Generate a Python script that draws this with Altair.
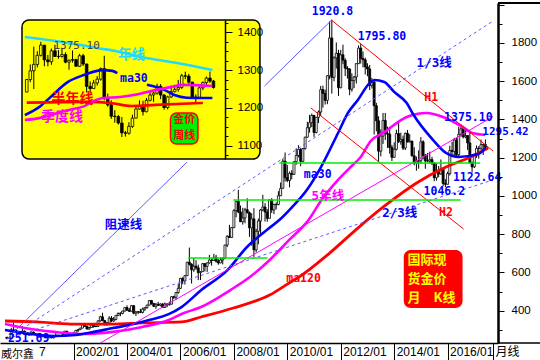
import altair as alt
import pandas as pd

# ---------------- monthly spot gold candles 1999/07 .. 2017/06 ----------------
YEARS = list(range(1999, 2018))
OPEN_1999_07 = 261.5
CLOSE = [
    [255.5, 254.5, 299.5, 299.5, 292, 288],
    [284, 293, 278, 274, 273, 288, 277, 277, 273, 264, 270, 273],
    [265, 267, 258, 264, 267, 270, 265, 273, 293, 279, 274, 279],
    [282, 297, 302, 309, 326, 318, 304, 312, 324, 317, 318, 347],
    [368, 348, 334, 336, 361, 346, 354, 375, 385, 386, 398, 416],
    [403, 397, 426, 387, 394, 394, 391, 408, 416, 429, 453, 438],
    [423, 434, 428, 435, 417, 435, 430, 434, 473, 470, 495, 517],
    [569, 556, 583, 654, 643, 614, 633, 624, 599, 604, 646, 632],
    [650, 665, 662, 679, 659, 650, 665, 673, 743, 789, 783, 834],
    [923, 972, 916, 865, 885, 928, 912, 833, 880, 718, 815, 869],
    [927, 942, 916, 883, 979, 927, 955, 955, 1001, 1040, 1182, 1096],
    [1081, 1118, 1113, 1179, 1212, 1244, 1181, 1248, 1307, 1357, 1383, 1421],
    [1332, 1411, 1439, 1556, 1536, 1500, 1628, 1826, 1620, 1722, 1746, 1566],
    [1738, 1710, 1668, 1664, 1558, 1604, 1622, 1692, 1773, 1719, 1712, 1675],
    [1664, 1578, 1596, 1472, 1393, 1234, 1313, 1395, 1327, 1323, 1253, 1202],
    [1244, 1326, 1284, 1296, 1250, 1327, 1282, 1287, 1210, 1171, 1182, 1184],
    [1283, 1212, 1183, 1183, 1190, 1172, 1095, 1134, 1115, 1142, 1065, 1061],
    [1117, 1238, 1233, 1293, 1215, 1322, 1351, 1309, 1316, 1277, 1173, 1152],
    [1211, 1249, 1249, 1268, 1269, 1255],
]
HIGH = [
    [262.5, 262, 310, 339, 301, 293],
    [293, 318, 296, 288, 279, 292, 291, 283, 279, 275, 272, 275],
    [274, 268, 269, 265, 294, 275, 272, 279, 294, 293, 280, 282],
    [289, 299, 304, 310, 327, 330, 322, 316, 326, 325, 323, 349],
    [373, 389, 352, 341, 371, 372, 367, 376, 391, 392, 400, 417],
    [428, 415, 429, 430, 396, 398, 410, 416, 418, 431, 455, 456],
    [441, 439, 446, 438, 439, 443, 439, 448, 475, 478, 496, 541],
    [571, 575, 586, 654, 730, 648, 676, 664, 641, 606, 650, 648],
    [652, 692, 674, 697, 692, 671, 679, 680, 745, 795, 849, 838],
    [931, 975, 1032, 950, 938, 938, 988, 919, 910, 936, 828, 882],
    [932, 1006, 962, 931, 983, 989, 960, 966, 1025, 1070, 1195, 1227],
    [1162, 1128, 1135, 1180, 1249, 1265, 1250, 1251, 1310, 1388, 1424, 1431],
    [1424, 1412, 1447, 1575, 1577, 1556, 1632, 1913, 1920.8, 1730, 1803, 1764],
    [1764, 1791, 1720, 1679, 1668, 1641, 1628, 1693, 1787, 1795.8, 1755, 1723],
    [1694, 1685, 1617, 1604, 1487, 1417, 1348, 1434, 1434, 1362, 1362, 1267],
    [1280, 1346, 1392, 1331, 1315, 1332, 1345, 1323, 1288, 1255, 1206, 1238],
    [1308, 1291, 1220, 1225, 1232, 1205, 1178, 1170, 1157, 1191, 1142, 1088],
    [1127, 1263, 1283, 1304, 1303, 1362, 1375.1, 1367, 1352, 1317, 1338, 1180],
    [1220, 1264, 1261, 1295, 1270, 1295.42],
]
LOW = [
    [251.69, 252, 253, 295, 287, 278],
    [280, 283, 275, 272, 269, 272, 275, 274, 270, 263, 262, 266],
    [262, 255, 256, 255, 263, 266, 264, 265, 269, 276, 270, 272],
    [277, 280, 288, 298, 308, 315, 302, 300, 311, 311, 314, 316],
    [342, 345, 322, 320, 334, 340, 342, 350, 372, 371, 381, 396],
    [398, 393, 395, 381, 372, 382, 387, 386, 399, 411, 427, 431],
    [419, 410, 425, 423, 414, 414, 418, 428, 434, 460, 456, 489],
    [514, 538, 537, 582, 636, 542, 603, 614, 560, 560, 603, 605],
    [603, 646, 635, 662, 652, 640, 648, 642, 672, 733, 781, 782],
    [834, 888, 910, 865, 850, 857, 909, 786, 740, 681, 705, 747],
    [802, 920, 866, 865, 883, 911, 905, 930, 951, 1000, 1040, 1075],
    [1072, 1045, 1087, 1110, 1163, 1202, 1155, 1178, 1242, 1306, 1331, 1360],
    [1309, 1327, 1381, 1418, 1462, 1478, 1480, 1610, 1535, 1600, 1666, 1523],
    [1563, 1689, 1627, 1614, 1527, 1545, 1564, 1588, 1689, 1692, 1672, 1635],
    [1626, 1554, 1562, 1321, 1338, 1180, 1207, 1272, 1292, 1251, 1221, 1182],
    [1200, 1238, 1277, 1268, 1240, 1240, 1280, 1281, 1206, 1160, 1132, 1142],
    [1167, 1191, 1142, 1175, 1169, 1162, 1077, 1080, 1098, 1111, 1052, 1046.2],
    [1061, 1107, 1208, 1208, 1199, 1208, 1310, 1301, 1302, 1241, 1171, 1122.64],
    [1146, 1199, 1195, 1241, 1214, 1249],
]

# moving averages (time, value)
MA30_T = [1999.43, 2000.17, 2001.27, 2002.07, 2002.73, 2003.47, 2004.09, 2004.83, 2005.56, 2006.04,
          2006.77, 2007.76, 2008.49, 2009.23, 2009.70, 2010.18, 2010.73, 2011.24, 2011.90, 2012.27,
          2012.64, 2013.08, 2013.26, 2013.63, 2014.00, 2014.47, 2014.73, 2015.46, 2015.94, 2016.42,
          2017.15, 2017.41]
MA30_V = [299, 283, 268, 273, 288, 309, 325, 351, 382, 419, 507, 612, 733, 822, 874, 942, 1031, 1146,
          1329, 1434, 1502, 1590, 1606, 1596, 1544, 1486, 1423, 1292, 1225, 1204, 1219, 1251]
MA60_T = [1999.43, 2000.17, 2001.27, 2002.37, 2003.47, 2004.57, 2005.56, 2006.04, 2006.77, 2007.87,
          2008.60, 2009.34, 2010.07, 2010.80, 2011.28, 2011.90, 2012.45, 2012.75, 2013.12, 2013.63,
          2014.47, 2015.21, 2015.83, 2016.56, 2016.93, 2017.41]
MA60_V = [330, 309, 289, 278, 289, 315, 351, 383, 419, 508, 576, 665, 770, 875, 979, 1084, 1162, 1204,
          1287, 1334, 1413, 1434, 1413, 1361, 1329, 1319]
MA120_T = [1999.43, 2000.64, 2001.89, 2003.47, 2004.57, 2006.04, 2006.77, 2007.98, 2009.34, 2010.07,
           2010.44, 2011.54, 2012.64, 2013.74, 2014.84, 2015.94, 2016.86, 2017.52]
MA120_V = [346, 341, 330, 330, 336, 341, 367, 414, 482, 545, 576, 696, 832, 958, 1068, 1151, 1204, 1251]

# drawn trend lines (start/end)
FAN_SOLID = {"t": [1999.5, 2011.667], "v": [251.69, 1920.8]}
FAN_DASH = {"id": ["a", "a", "b", "b"], "t": [1999.5, 2017.70, 1999.5, 2017.70], "v": [251.69, 1915, 251.69, 1084]}
RED_THIN = {"id": ["H1", "H1", "H2", "H2"], "t": [2011.65, 2017.70, 2010.88, 2016.60], "v": [1920, 1235, 1460, 827]}
PINK_THIN = {"t": [2003.0, 2017.70], "v": [231, 1415]}
GREEN = {"id": ["g1", "g1", "g2", "g2", "g3", "g3"],
         "t": [2006.29, 2009.26, 2007.98, 2016.49, 2009.70, 2017.22],
         "v": [675, 675, 979, 979, 1172, 1172]}

# ---------------- weekly inset (2016/06 .. 2017/06) ----------------
W_OPEN_FIRST = 1242
W_CLOSE = [1275, 1298, 1315, 1339, 1366, 1327, 1322, 1351, 1336, 1336, 1341, 1321, 1326, 1328, 1310, 1338,
           1316, 1257, 1251, 1266, 1276, 1304, 1225, 1208, 1178, 1177, 1160, 1134, 1133, 1151, 1173, 1197,
           1204, 1190, 1220, 1234, 1239, 1257, 1234, 1201, 1229, 1243, 1249, 1254, 1285, 1284, 1268, 1228,
           1228, 1253, 1267, 1279, 1271, 1254]
W_HIGH = [1276, 1315, 1362, 1350, 1375, 1366, 1340, 1357, 1367, 1353, 1358, 1347, 1328, 1352, 1330, 1343,
          1343, 1317, 1270, 1274, 1284, 1307, 1338, 1238, 1220, 1194, 1181, 1176, 1139, 1162, 1182, 1207,
          1220, 1219, 1226, 1245, 1245, 1264, 1263, 1236, 1232, 1259, 1261, 1274, 1290, 1296, 1290, 1269,
          1236, 1262, 1270, 1283, 1296, 1274]
W_LOW = [1241, 1268, 1250, 1307, 1336, 1310, 1310, 1314, 1335, 1330, 1333, 1318, 1301, 1320, 1311, 1308,
         1311, 1241, 1241, 1250, 1259, 1272, 1220, 1203, 1171, 1161, 1156, 1123, 1124, 1129, 1147, 1172,
         1195, 1180, 1188, 1217, 1216, 1235, 1223, 1195, 1196, 1226, 1241, 1243, 1250, 1276, 1260, 1226,
         1214, 1227, 1247, 1256, 1266, 1251]
IN_CYAN = {"i": [-0.54, 10.3, 20.3, 25.1, 32.4, 42.7, 52.7], "v": [1387.6, 1374, 1358, 1350.5, 1334.7, 1318.8, 1300.3]}
IN_BLUE = {"seg": [0] * 8 + [1] * 5,
           "i": [-0.54, 3.51, 7.03, 11.6, 16.2, 21.6, 24.3, 25.7, 34.1, 39.2, 41.9, 45.4, 52.7],
           "v": [1181, 1202, 1231, 1268, 1287, 1300, 1298, 1292, 1261, 1247, 1234, 1227, 1226]}
IN_RED = {"i": [0, 17.6, 23.8, 29.7, 36.5, 50], "v": [1214, 1216, 1213, 1205, 1208, 1213]}
IN_PINK = {"i": [-0.54, 3.5, 11.6, 16.2, 19.7, 21.6, 26.5, 31.9, 36.5, 40.8, 44.6, 52.7],
           "v": [1168, 1173, 1194, 1204, 1221, 1226, 1229, 1237, 1247, 1255, 1261, 1258]}

# ---------------- build tables ----------------
rows = []
prev = OPEN_1999_07
for yi, year in enumerate(YEARS):
    m0 = 7 if year == 1999 else 1
    for k, c in enumerate(CLOSE[yi]):
        rows.append({"t": year + (m0 + k - 1) / 12.0, "o": prev, "c": c, "h": HIGH[yi][k], "l": LOW[yi][k]})
        prev = c
candles = pd.DataFrame(rows)

wrows = []
prev = W_OPEN_FIRST
for i, c in enumerate(W_CLOSE):
    wrows.append({"i": i, "o": prev, "c": c, "h": W_HIGH[i], "l": W_LOW[i]})
    prev = c
weekly = pd.DataFrame(wrows)

# ---------------- scales & axes ----------------
XS = alt.Scale(domain=[1999.432, 2017.70], nice=False, zero=False)
YS = alt.Scale(domain=[231, 2009], nice=False, zero=False)
XTICKS = [2002, 2004, 2006, 2008, 2010, 2012, 2014, 2016, 2017.70]
X_AXIS = alt.Axis(values=XTICKS, title=None, grid=False, orient="bottom",
                  labelExpr="datum.value > 2017 ? '月线' : datum.value + '/01'",
                  tickSize=17, tickColor="black", tickWidth=1, domainColor="black", domainWidth=1.5,
                  labelAlign="left", labelBaseline="top", labelPadding=-14, labelOffset=2,
                  labelFont="Liberation Sans, Noto Sans CJK SC", labelFontSize=12, labelColor="black",
                  labelFlush=False, labelOverlap=False, zindex=0)
Y_AXIS = alt.Axis(values=list(range(300, 2001, 100)), title=None, grid=False, orient="right",
                  labelExpr="(datum.value % 200 === 0 && datum.value <= 1800) ? datum.value : ''",
                  tickSize={"condition": {"test": "datum.value % 200 === 0", "value": 6}, "value": 4},
                  tickColor="black", domainColor="black", domainWidth=2.5,
                  labelPadding=7, labelFont="Liberation Sans", labelFontSize=11.5, labelColor="black",
                  labelFlush=False, labelOverlap=False, zindex=1)

X = alt.X("t:Q", scale=XS, axis=X_AXIS)
Y = alt.Y("v:Q", scale=YS, axis=Y_AXIS)

wick = alt.Chart(candles).mark_rule(color="black", strokeWidth=1).encode(
    x=X, y=alt.Y("l:Q", scale=YS, axis=Y_AXIS), y2="h:Q")
body = alt.Chart(candles).mark_bar(size=2, stroke="black", strokeWidth=0.8).encode(
    x=X, y=alt.Y("o:Q", scale=YS, axis=Y_AXIS), y2="c:Q",
    fill=alt.condition("datum.c >= datum.o", alt.value("white"), alt.value("black")))


def line(data, color, width, dash=None, detail=None, interp="linear"):
    kw = dict(color=color, strokeWidth=width, interpolate=interp)
    if dash:
        kw["strokeDash"] = dash
    enc = dict(x=X, y=Y)
    if detail:
        enc["detail"] = detail
    return alt.Chart(pd.DataFrame(data)).mark_line(**kw).encode(**enc)


ma30 = line({"t": MA30_T, "v": MA30_V}, "#0000ff", 2.6, interp="monotone")
ma60 = line({"t": MA60_T, "v": MA60_V}, "#ff00ff", 2.6, interp="monotone")
ma120 = line({"t": MA120_T, "v": MA120_V}, "#ff0000", 2.8, interp="monotone")
fan_solid = line(FAN_SOLID, "#5a5aff", 1)
fan_dash = line(FAN_DASH, "#5a5aff", 1, dash=[3, 3], detail="id:N")
red_thin = line(RED_THIN, "#ff0000", 1, detail="id:N")
pink_thin = line(PINK_THIN, "#ff00ff", 1)
green = line(GREEN, "#00ee00", 1.5, detail="id:N")


def texts(items, color, size, font, weight="bold", align="left"):
    df = pd.DataFrame(items, columns=["t", "v", "label"])
    return alt.Chart(df).mark_text(color=color, fontSize=size, font=font, fontWeight=weight,
                                   align=align, baseline="middle").encode(x=X, y=Y, text="label:N")


MONO = "DejaVu Sans Mono, Noto Sans CJK SC"
CJK = "Noto Sans CJK SC"
blue_nums = texts([(2010.914, 1962, "1920.8"), (2012.638, 1831, "1795.80"), (2015.87, 1408, "1375.10"),
                   (2016.20, 1094, "1122.64"), (2015.10, 1021, "1046.2"),
                   (1999.54, 252, "251.69"), (2010.62, 1110, "ma30")], "#0000ff", 11.5, MONO)
blue_last = texts([(2017.30, 1336, "1295.42")], "#0000ff", 11, MONO)
blue_cjk = texts([(2014.84, 1695, "1/3线"), (2013.55, 911, "2/3线"), (2003.17, 848, "阻速线")],
                 "#0000ff", 12.5, MONO)
red_lbl = texts([(2015.13, 1512, "H1"), (2015.68, 911, "H2"), (2009.96, 566, "ma120")], "#ff0000", 11.5, MONO)
pink_lbl = texts([(2010.91, 1000, "5年线")], "#ff00ff", 12.5, MONO)

BOX = pd.DataFrame({"t": [2014.36], "t2": [2016.56], "v": [414], "v2": [717]})
red_box = alt.Chart(BOX).mark_rect(fill="#ff0000", cornerRadius=7).encode(
    x=alt.X("t:Q", scale=XS, axis=X_AXIS), x2="t2:Q", y=alt.Y("v:Q", scale=YS, axis=Y_AXIS), y2="v2:Q")
box_txt = texts([(2014.50, 665, "国际现"), (2014.50, 566, "货金价"), (2014.50, 466, "月\u3000K线")],
                "#ffff00", 13, CJK)

one = pd.DataFrame({"a": [0]})
corner_txt = alt.Chart(one).mark_text(text="威尔鑫", font=CJK, fontSize=11, color="black",
                                      align="left", baseline="middle").encode(x=alt.value(1), y=alt.value(351.5))
corner_seven = alt.Chart(one).mark_text(text="7", font="Liberation Sans", fontSize=12, color="black",
                                        align="left", baseline="middle").encode(x=alt.value(39), y=alt.value(349))
top_rule = alt.Chart(one).mark_rule(color="black", strokeWidth=2).encode(
    x=alt.value(498), x2=alt.value(540), y=alt.value(0))
bot_rule = alt.Chart(one).mark_rule(color="black", strokeWidth=1.5).encode(
    x=alt.value(498), x2=alt.value(540), y=alt.value(340))

main = alt.layer(wick, body, ma120, ma60, ma30, fan_solid, fan_dash, red_thin, pink_thin, green,
                 blue_nums, blue_last, blue_cjk, red_lbl, pink_lbl, red_box, box_txt,
                 corner_txt, corner_seven, top_rule, bot_rule)

# ---------------- inset ----------------
XI = alt.Scale(domain=[-1.35, 54.86], range=[17, 225], nice=False, zero=False)
YI = alt.Scale(domain=[1064.8, 1432.5], range=[156, 17], nice=False, zero=False)
YI_AXIS = alt.Axis(values=list(range(1075, 1426, 25)), title=None, grid=False, orient="right", offset=-273,
                   labelExpr="datum.value % 100 === 0 ? datum.value : ''",
                   tickSize={"condition": {"test": "datum.value % 100 === 0", "value": 7}, "value": 3},
                   tickColor="black", domainColor="black", domainWidth=1.5, labelPadding=5,
                   labelFont="Liberation Sans", labelFontSize=11.5, labelColor="black",
                   labelFlush=False, labelOverlap=False, zindex=2)
XIN = alt.X("i:Q", scale=XI, axis=None)
YIN = alt.Y("v:Q", scale=YI, axis=YI_AXIS)

IN_BG = pd.DataFrame({"i": [-6], "i2": [67.5], "v": [1057], "v2": [1490]})
IN_BOX = pd.DataFrame({"i": [-1.35], "i2": [66.2], "v": [1064.8], "v2": [1432.5]})
in_bg = alt.Chart(IN_BG).mark_rect(fill="white").encode(x=XIN, x2="i2:Q", y=YIN, y2="v2:Q")
in_box = alt.Chart(IN_BOX).mark_rect(fill="#ffff00", stroke="black", strokeWidth=1.5, cornerRadius=7).encode(
    x=XIN, x2="i2:Q", y=YIN, y2="v2:Q")
in_wick = alt.Chart(weekly).mark_rule(color="black", strokeWidth=1).encode(
    x=XIN, y=alt.Y("l:Q", scale=YI, axis=YI_AXIS), y2="h:Q")
in_body = alt.Chart(weekly).mark_bar(size=2.6, stroke="black", strokeWidth=0.8).encode(
    x=XIN, y=alt.Y("o:Q", scale=YI, axis=YI_AXIS), y2="c:Q",
    fill=alt.condition("datum.c >= datum.o", alt.value("#ffff00"), alt.value("black")))


def iline(data, color, detail=None):
    enc = dict(x=XIN, y=YIN)
    if detail:
        enc["detail"] = detail
    return alt.Chart(pd.DataFrame(data)).mark_line(color=color, strokeWidth=2.6, interpolate="monotone").encode(**enc)


in_cyan = iline(IN_CYAN, "#22d8ff")
in_blue = iline(IN_BLUE, "#0000ff", detail="seg:N")
in_red = iline(IN_RED, "#ff0000")
in_pink = iline(IN_PINK, "#ff00ff")


def itexts(items, color, size, font, weight="bold", align="left"):
    df = pd.DataFrame(items, columns=["i", "v", "label"])
    return alt.Chart(df).mark_text(color=color, fontSize=size, font=font, fontWeight=weight,
                                   align=align, baseline="middle").encode(x=XIN, y=YIN, text="label:N")


in_t1 = itexts([(7.57, 1364, "1375.10")], "#404040", 11, MONO, weight="normal")
in_t2 = itexts([(25.9, 1340, "年线")], "#22d8ff", 13.5, CJK)
in_t3 = itexts([(26.5, 1276.5, "ma30")], "#0000ff", 11.5, MONO)
in_t4 = itexts([(7.0, 1223.5, "半年线")], "#ff0000", 14, CJK)
in_t5 = itexts([(4.05, 1176, "季度线")], "#ff00ff", 14, CJK)
GBOX = pd.DataFrame({"i": [40.8], "i2": [48.6], "v": [1104.5], "v2": [1186.5]})
in_gbox = alt.Chart(GBOX).mark_rect(fill="#00ee00", stroke="#ff0000", strokeWidth=1.5, cornerRadius=6).encode(
    x=XIN, x2="i2:Q", y=YIN, y2="v2:Q")
in_t6 = itexts([(44.7, 1166.7, "金价"), (44.7, 1124.4, "周线")], "#ff0000", 11, CJK, align="center")

inset = alt.layer(in_bg, in_box, in_wick, in_body, in_cyan, in_blue, in_red, in_pink,
                  in_t1, in_t2, in_t3, in_t4, in_t5, in_gbox, in_t6)

chart = alt.layer(main, inset).resolve_scale(x="independent", y="independent").properties(
    width=498, height=340, autosize="none",
    padding={"left": 0, "top": 3, "right": 42, "bottom": 17},
    background="white",
).configure_view(stroke=None)

chart.save("out.html", embed_options={"renderer": "svg", "actions": False})
